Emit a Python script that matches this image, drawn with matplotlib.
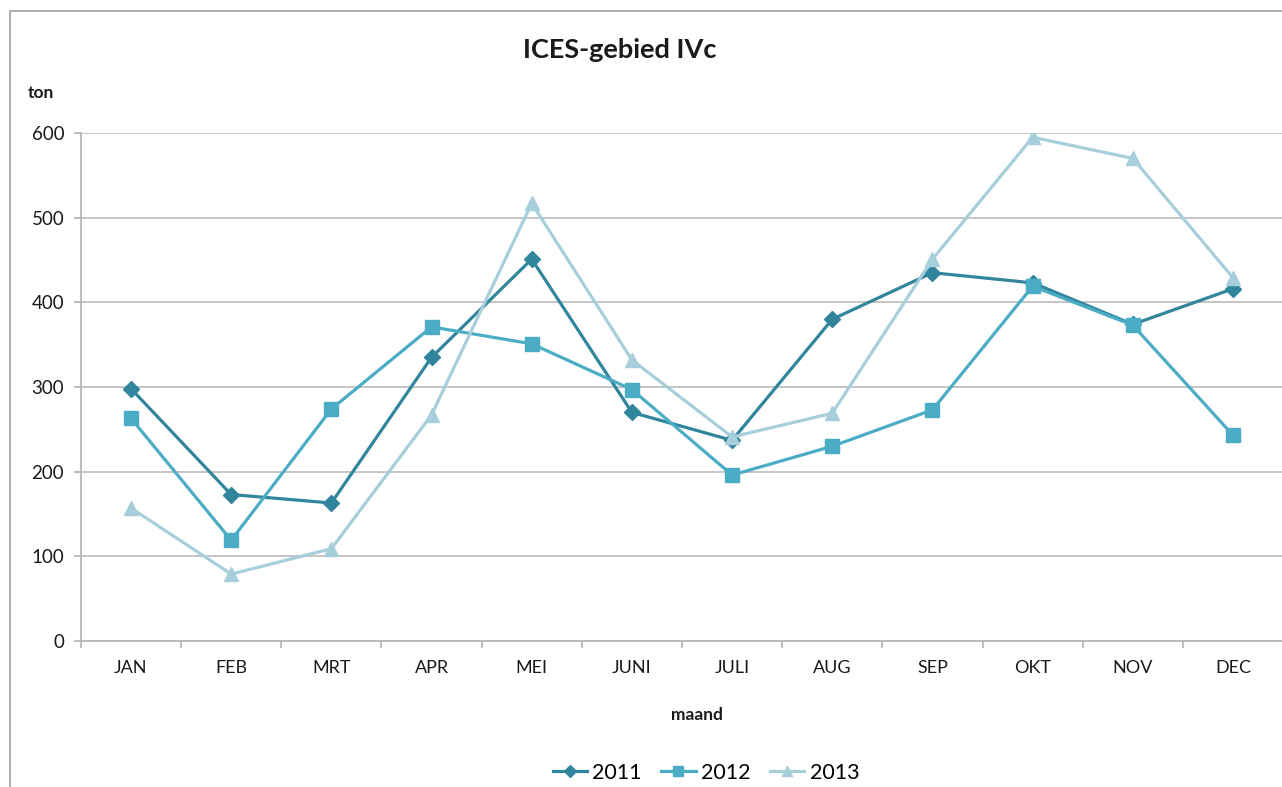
import matplotlib
matplotlib.use("Agg")
import matplotlib.pyplot as plt
from matplotlib.patches import Rectangle
from matplotlib.lines import Line2D

plt.rcParams['font.family'] = ['Lato', 'DejaVu Sans']

months = ["JAN", "FEB", "MRT", "APR", "MEI", "JUNI", "JULI", "AUG", "SEP", "OKT", "NOV", "DEC"]
y2011 = [298, 173, 163, 335, 451, 270, 237, 380, 435, 423, 374, 416]
y2012 = [263, 119, 274, 371, 351, 297, 196, 230, 273, 419, 373, 243]
y2013 = [157, 79, 109, 267, 517, 332, 241, 269, 451, 595, 570, 429]
years = ["2011", "2012", "2013"]
yticks = [0, 100, 200, 300, 400, 500, 600]

colors = ["#31859C", "#4BACC6", "#A6CEDB"]
markers = ["D", "s", "^"]
msizes = [8, 10, 10]

W, H = 1282, 787
fig = plt.figure(figsize=(W / 100, H / 100), dpi=100)

# outer chart border
fig.patches.append(Rectangle((10 / W, -0.05), 1.1, 1 - 11 / H + 0.05,
                             transform=fig.transFigure, fill=False,
                             edgecolor="#A0A0A0", linewidth=1.2))

x0, x1 = 80.9, 1283.1
yb, yt = 641, 133
ax = fig.add_axes([x0 / W, 1 - yb / H, (x1 - x0) / W, (yb - yt) / H])

xs = list(range(len(months)))
for vals, c, m, ms, lab, z in zip([y2011, y2012, y2013], colors, markers, msizes, years, [3, 4, 5]):
    ax.plot(xs, vals, color=c, marker=m, markersize=ms, linewidth=2.3,
            markerfacecolor=c, markeredgecolor=c, label=lab, zorder=z)

ax.set_xlim(-0.5, len(months) - 0.5)
ax.set_ylim(0, 600)
ax.set_yticks(yticks)
ax.set_yticklabels([str(v) for v in yticks], fontsize=13.5, color="#1A1A1A")
ax.yaxis.grid(True, color="#C0C0C0", linewidth=1.3)
ax.set_axisbelow(True)

ax.set_xticks(xs)
ax.set_xticklabels(months, fontsize=13, color="#1A1A1A")
ax.set_xticks([i - 0.5 for i in range(len(months) + 1)], minor=True)
ax.tick_params(axis="x", which="major", length=0, pad=14)
ax.tick_params(axis="x", which="minor", length=5, color="#B0B0B0", width=1.2)
ax.tick_params(axis="y", length=5, color="#B0B0B0", width=1.2, pad=7)

for s in ["top", "right"]:
    ax.spines[s].set_visible(False)
for s in ["left", "bottom"]:
    ax.spines[s].set_color("#B8B8B8")
    ax.spines[s].set_linewidth(1.3)

fig.text(620 / W, 1 - 50 / H, "ICES-gebied IVc", fontsize=19.5, fontweight="bold",
         ha="center", va="center", color="#1A1A1A")
fig.text(28 / W, 1 - 93 / H, "ton", fontsize=12.5, fontweight="bold",
         ha="left", va="center", color="#1A1A1A")
fig.text(697 / W, 1 - 715 / H, "maand", fontsize=12.5, fontweight="bold",
         ha="center", va="center", color="#1A1A1A")

handles = [Line2D([], [], color=c, marker=m, markersize=ms * 0.75, linewidth=2.3)
           for c, m, ms in zip(colors, markers, msizes)]
fig.legend(handles, years, loc="center", bbox_to_anchor=(706 / W, 1 - 773 / H),
           ncol=3, frameon=False, fontsize=15.5, handlelength=1.6,
           handletextpad=0.25, columnspacing=0.9, borderpad=0)

fig.savefig("out.png", dpi=100)
